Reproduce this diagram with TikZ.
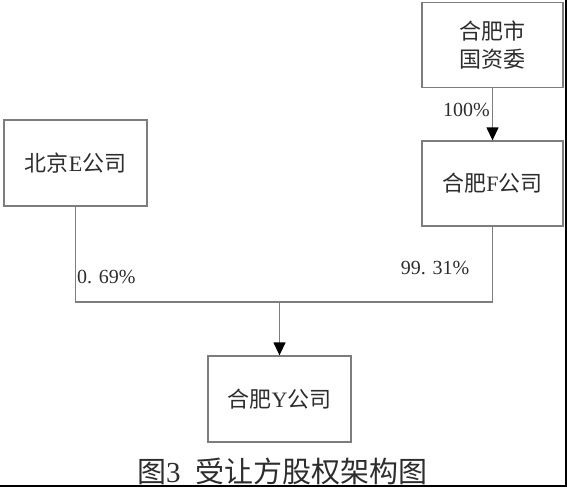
\documentclass[tikz,border=0pt]{standalone}
\usepackage{fontspec}
\setmainfont{Liberation Serif}
\newfontfamily\cjk{Noto Sans CJK SC}
\usetikzlibrary{arrows.meta}
\definecolor{linegray}{RGB}{125,125,125}
\definecolor{txt}{RGB}{45,45,45}
\tikzset{
  box/.style={draw=linegray, line width=1.3pt, minimum width=141pt, minimum height=85pt, inner sep=0pt, align=center, text=txt, font=\fontsize{22}{28}\selectfont},
  conn/.style={draw=linegray, line width=1.3pt},
  tip/.style={-{Triangle[width=12pt,length=13pt,color=black]}},
  pct/.style={text=txt, font=\fontsize{20}{24}\selectfont, inner sep=0pt}
}
\begin{document}
\begin{tikzpicture}[x=1pt,y=-1pt]
\useasboundingbox (0,0) rectangle (567,487);
\node[box] (gzw) at (492.5,45) {{\cjk 合肥市}\\{\cjk 国资委}};
\node[box] (F) at (492.5,183.5) {{\cjk 合肥}F{\cjk 公司}};
\node[box, minimum width=143pt, minimum height=86pt] (E) at (75.5,163) {{\cjk 北京}E{\cjk 公司}};
\node[box, minimum width=143pt, minimum height=86pt] (Y) at (279.5,399) {{\cjk 合肥}Y{\cjk 公司}};
\coordinate (j) at (279.5,302);
\draw[conn, tip] (gzw.south) -- (F.north);
\draw[conn] (E.south) |- (j) -| (F.south);
\draw[conn, tip] (j) -- (Y.north);
\node[pct, anchor=east] (p100) at (490,110) {100\%};
\node[pct, anchor=west] (p069) at (77,277) {0.\,\,69\%};
\node[pct] (p9931) at (435,268) {99.\,\,31\%};
\node[text=txt, font=\fontsize{29}{32}\selectfont, inner sep=0pt] (cap) at (282,471) {{\cjk 图}3\hspace{0.5em}{\cjk 受让方股权架构图}};
\draw[line width=2pt, black] (566,0) -- (566,486) -- (0,486);
\end{tikzpicture}
\end{document}
